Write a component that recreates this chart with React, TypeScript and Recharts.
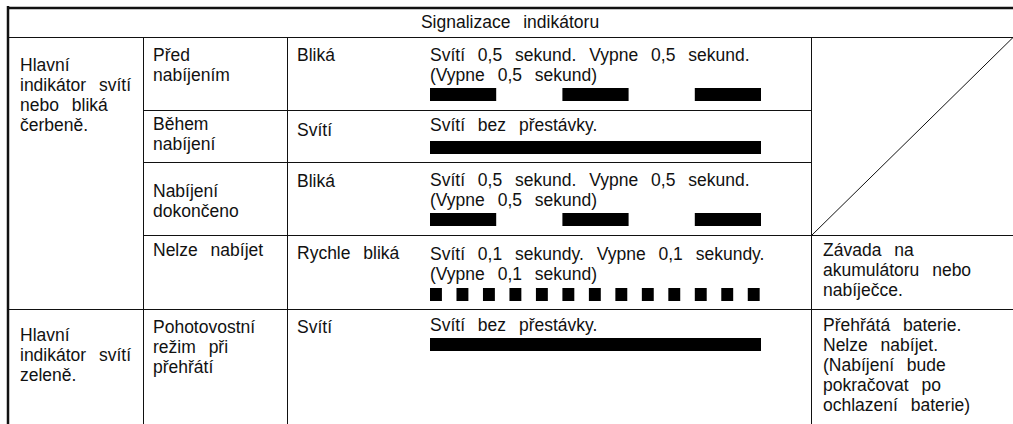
import { BarChart, Bar, XAxis, YAxis } from "recharts";

const FONT = "'Liberation Sans', Arial, Helvetica, sans-serif";
const INK = "#111";

// blink patterns: alternating on / off durations in seconds, first segment is "on"
const slowBlink = [0.5, 0.5, 0.5, 0.5, 0.5];
const steadyOn = [2.5];
const fastBlink = [
  0.09, 0.11, 0.09, 0.11, 0.09, 0.11, 0.09, 0.11, 0.09, 0.11, 0.09, 0.11, 0.09,
  0.11, 0.09, 0.11, 0.09, 0.11, 0.09, 0.11, 0.09, 0.11, 0.09, 0.11, 0.09,
];
const timeSpan = [0, 2.5];

const header = "Signalizace indikátoru";
const groupLabels = [
  ["Hlavní", "indikátor svítí", "nebo bliká", "čerbeně."],
  ["Hlavní", "indikátor svítí", "zeleně."],
];
const stateLabels = [
  ["Před", "nabíjením"],
  ["Během", "nabíjení"],
  ["Nabíjení", "dokončeno"],
  ["Nelze nabíjet"],
  ["Pohotovostní", "režim při", "přehřátí"],
];
const modeLabels = ["Bliká", "Svítí", "Bliká", "Rychle bliká", "Svítí"];
const descLabels = [
  ["Svítí 0,5 sekund. Vypne 0,5 sekund.", "(Vypne 0,5 sekund)"],
  ["Svítí bez přestávky."],
  ["Svítí 0,5 sekund. Vypne 0,5 sekund.", "(Vypne 0,5 sekund)"],
  ["Svítí 0,1 sekundy. Vypne 0,1 sekundy.", "(Vypne 0,1 sekund)"],
  ["Svítí bez přestávky."],
];
const noteLabels = [
  ["Závada na", "akumulátoru nebo", "nabíječce."],
  ["Přehřátá baterie.", "Nelze nabíjet.", "(Nabíjení bude", "pokračovat po", "ochlazení baterie)"],
];
const patterns = [slowBlink, steadyOn, slowBlink, fastBlink, steadyOn];

// layout
const W = 1013;
const H = 424;
const COL = [8, 143, 287, 811];
const ROW = [37, 110, 162, 235, 309];
const STRIP_X = 430;
const STRIP_W = 331;
const stripTop = [88, 141, 213, 288, 338];
const stripH = [13, 13, 13, 13, 13];
const groupY = [71, 341];
const stateY = [61, 130, 197, 256, 333];
const modeY = [61, 136, 187, 259, 333];
const descY = [61, 131, 186, 260, 331];
const noteY = [256, 331];
const LINE = 20;

function PulseStrip({ durations, top, height }: { durations: number[]; top: number; height: number }) {
  const row: Record<string, number | string> = { name: "t" };
  durations.forEach((d, i) => {
    row["s" + i] = d;
  });
  return (
    <div style={{ position: "absolute", left: STRIP_X, top }}>
      <BarChart
        width={STRIP_W}
        height={height}
        data={[row]}
        layout="vertical"
        margin={{ top: 0, right: 0, bottom: 0, left: 0 }}
        barCategoryGap={0}
      >
        <XAxis type="number" domain={timeSpan} allowDataOverflow hide />
        <YAxis type="category" dataKey="name" hide />
        {durations.map((_, i) => (
          <Bar
            key={i}
            dataKey={"s" + i}
            stackId="t"
            fill={i % 2 === 0 ? "#000" : "transparent"}
            isAnimationActive={false}
          />
        ))}
      </BarChart>
    </div>
  );
}

function Lines({ x, y, lines }: { x: number; y: number; lines: string[] }) {
  return (
    <>
      {lines.map((t, i) => (
        <text key={i} x={x} y={y + i * LINE}>
          {t}
        </text>
      ))}
    </>
  );
}

export default function App() {
  return (
    <div style={{ position: "absolute", left: 0, top: 0, width: W, height: H, background: "#fff", overflow: "hidden" }}>
      <svg width={W} height={H} style={{ position: "absolute", left: 0, top: 0 }}>
        <g stroke={INK} fill="none">
          <line x1={8} y1={6} x2={8} y2={H} strokeWidth={2.5} />
          <line x1={7} y1={8} x2={W} y2={8} strokeWidth={2.5} />
          <line x1={8} y1={ROW[0] + 0.5} x2={W} y2={ROW[0] + 0.5} />
          {COL.slice(1).map((x) => (
            <line key={x} x1={x + 0.5} y1={ROW[0]} x2={x + 0.5} y2={H} />
          ))}
          <line x1={COL[1]} y1={ROW[1] + 0.5} x2={COL[3]} y2={ROW[1] + 0.5} />
          <line x1={COL[1]} y1={ROW[2] + 0.5} x2={COL[3]} y2={ROW[2] + 0.5} />
          <line x1={COL[1]} y1={ROW[3] + 0.5} x2={W} y2={ROW[3] + 0.5} />
          <line x1={8} y1={ROW[4] + 0.5} x2={W} y2={ROW[4] + 0.5} />
          <line x1={COL[3] + 0.5} y1={ROW[3] + 0.5} x2={W} y2={ROW[0] + 0.5} />
        </g>
        <g fill={INK} fontFamily={FONT} fontSize={17.5} style={{ wordSpacing: 8 }}>
          <text x={510} y={28} textAnchor="middle">
            {header}
          </text>
          {groupLabels.map((g, i) => (
            <Lines key={"g" + i} x={20} y={groupY[i]} lines={g} />
          ))}
          {stateLabels.map((g, i) => (
            <Lines key={"s" + i} x={153} y={stateY[i]} lines={g} />
          ))}
          {modeLabels.map((t, i) => (
            <text key={"m" + i} x={297} y={modeY[i]}>
              {t}
            </text>
          ))}
          {descLabels.map((g, i) => (
            <Lines key={"d" + i} x={STRIP_X} y={descY[i]} lines={g} />
          ))}
          {noteLabels.map((g, i) => (
            <Lines key={"n" + i} x={823} y={noteY[i]} lines={g} />
          ))}
        </g>
      </svg>
      {patterns.map((p, i) => (
        <PulseStrip key={i} durations={p} top={stripTop[i]} height={stripH[i]} />
      ))}
    </div>
  );
}
